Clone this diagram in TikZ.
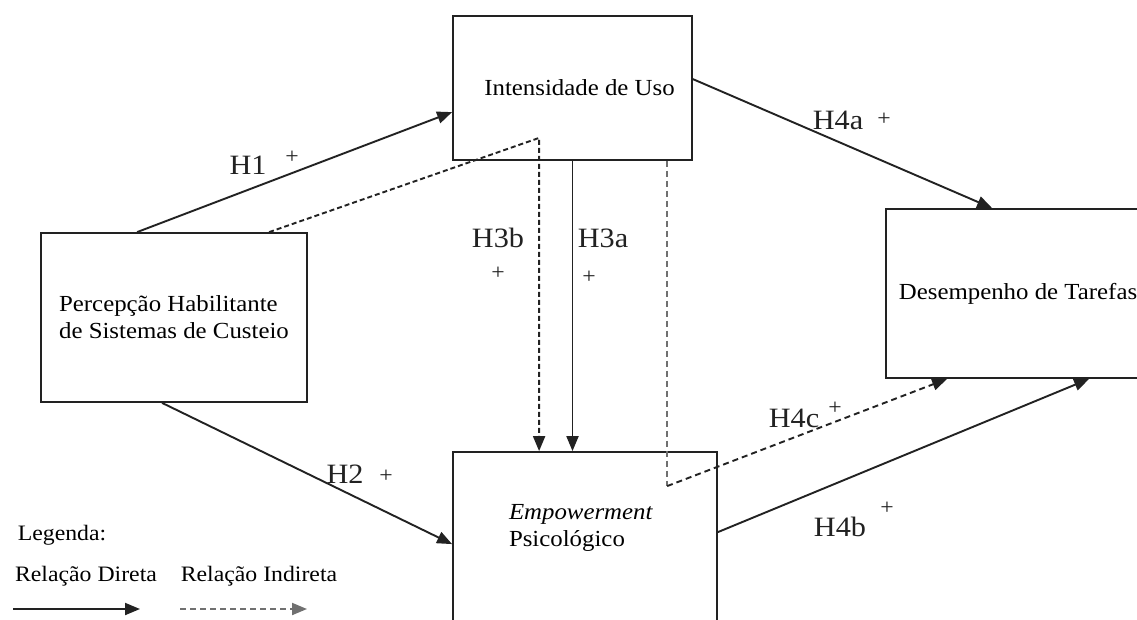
\documentclass[tikz,border=0pt]{standalone}
\usepackage{fontspec}
\setmainfont[FakeStretch=1.08]{Liberation Serif}
\usetikzlibrary{positioning, arrows.meta, calc}
\definecolor{lineGray}{HTML}{222222}
\definecolor{softGray}{HTML}{707070}

\begin{document}
\begin{tikzpicture}[x=1pt, y=-1pt,
  box/.style={draw=lineGray, line width=1.8pt, inner sep=0pt, align=left,
              font=\fontsize{23}{27}\selectfont},
  boxtext/.style={align=left, font=\fontsize{23}{27}\selectfont},
  hyp/.style={font=\fontsize{28}{30}\selectfont, text=lineGray},
  sgn/.style={font=\fontsize{22}{22}\selectfont, text=lineGray},
  legtxt/.style={font=\fontsize{22}{24}\selectfont},
  direct/.style={draw=lineGray, line width=1.9pt, -{Triangle[length=15pt, width=12pt]}},
  indirect/.style={direct, dash pattern=on 6pt off 4pt},
  faint/.style={indirect, draw=softGray, line width=1.5pt},
]
  \fill[white] (0,0) rectangle (1137,619);
  \useasboundingbox (0,0) rectangle (1137,619);

  % Constructs
  \node[box, minimum width=266pt, minimum height=169pt] (A) at (174,317.5)
    {Percepção Habilitante\\de Sistemas de Custeio};
  \node[box, minimum width=239pt, minimum height=144pt] (B) at (572.5,88)
    {\hspace*{14pt}Intensidade de Uso};
  \node[box, minimum width=264pt, minimum height=169pt] (C) at (1018,293.5)
    {Desempenho de Tarefas};
  \node[box, minimum width=264pt, minimum height=200pt] (D) at (585,552) {};
  \node[boxtext] (Dtxt) at (581,528) {\textit{Empowerment}\\Psicológico};

  % Direct relations
  \draw[direct] ([xshift=97pt]A.north west) -- ([yshift=-97pt]B.north west);
  \draw[direct] ([xshift=122pt]A.south west) -- ([yshift=-93pt]D.north west);
  \draw[direct] (B.south) -- (B.south |- D.north);
  \draw[direct] ([yshift=-64pt]B.north east) -- ([xshift=107pt]C.north west);
  \draw[direct] ([yshift=-81pt]D.north east) -- ([xshift=204pt]C.south west);

  % Indirect relations
  \coordinate (k1) at ([xshift=87pt, yshift=23pt]B.south west);
  \coordinate (k2) at ([xshift=215pt, yshift=-35pt]D.north west);
  \draw[indirect, dash pattern=on 5pt off 3pt] ([xshift=229pt]A.north west) -- (k1) -- (k1 |- D.north);
  \draw[faint, -] (k2 |- B.south) -- (k2);
  \draw[indirect] (k2) -- ([xshift=62pt]C.south west);

  % Hypotheses
  \node[hyp] (h1) at (248,165) {H1};
  \node[sgn] (s1) at (292,157) {+};
  \node[hyp] (h4a) at (838,120) {H4a};
  \node[sgn] (s4a) at (884,119) {+};
  \node[hyp] (h3b) at (498,238) {H3b};
  \node[sgn] (s3b) at (498,273) {+};
  \node[hyp] (h3a) at (603,238) {H3a};
  \node[sgn] (s3a) at (589,277) {+};
  \node[hyp] (h2) at (345,474) {H2};
  \node[sgn] (s2) at (386,476) {+};
  \node[hyp] (h4c) at (794,418) {H4c};
  \node[sgn] (s4c) at (835,408) {+};
  \node[hyp] (h4b) at (840,527) {H4b};
  \node[sgn] (s4b) at (887,508) {+};

  % Legend
  \node[legtxt] (leg) at (62,535) {Legenda:};
  \node[legtxt] (ldir) at (86,576) {Relação Direta};
  \node[legtxt] (lind) at (259,576) {Relação Indireta};
  \coordinate (d1) at (13,609);
  \coordinate (d2) at (140,609);
  \coordinate (i1) at (180,609);
  \coordinate (i2) at (307,609);
  \draw[direct] (d1) -- (d2);
  \draw[indirect, draw=softGray] (i1) -- (i2);
\end{tikzpicture}
\end{document}
